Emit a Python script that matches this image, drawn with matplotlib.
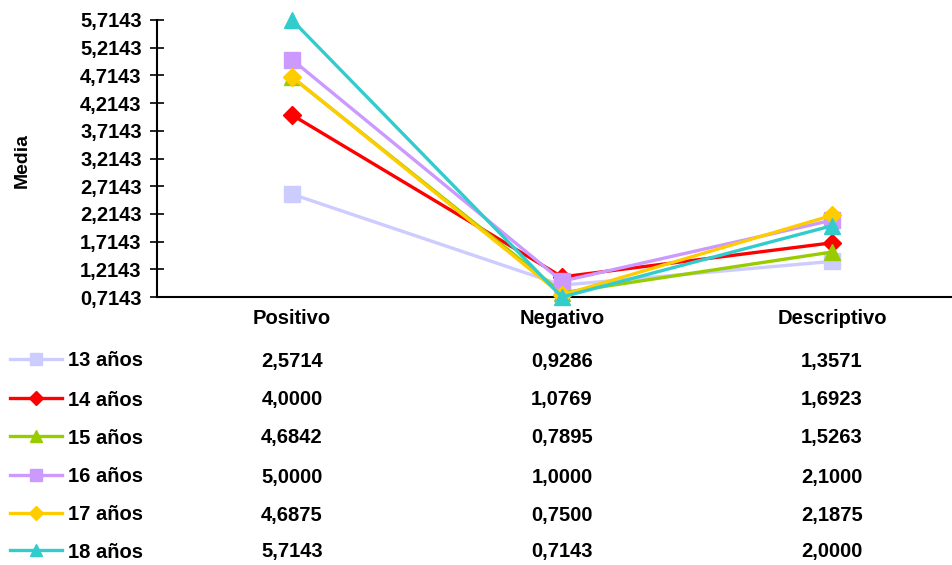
import matplotlib
matplotlib.use("Agg")
import matplotlib.pyplot as plt
from matplotlib.transforms import blended_transform_factory

plt.rcParams['font.family'] = ['Liberation Sans', 'DejaVu Sans']
plt.rcParams['font.weight'] = 'bold'

categories = ["Positivo", "Negativo", "Descriptivo"]
series_names = ["13 años", "14 años", "15 años", "16 años", "17 años", "18 años"]
s13 = [2.5714, 0.9286, 1.3571]
s14 = [4.0000, 1.0769, 1.6923]
s15 = [4.6842, 0.7895, 1.5263]
s16 = [5.0000, 1.0000, 2.1000]
s17 = [4.6875, 0.7500, 2.1875]
s18 = [5.7143, 0.7143, 2.0000]
series = [s13, s14, s15, s16, s17, s18]
colors = ["#CCCCFF", "#FF0000", "#99CC00", "#CC99FF", "#FFCC00", "#33CCCC"]
markers = ["s", "D", "^", "s", "D", "^"]
msizes = [11, 9, 12, 11, 9, 12]
yticks = [0.7143, 1.2143, 1.7143, 2.2143, 2.7143, 3.2143, 3.7143, 4.2143, 4.7143, 5.2143, 5.7143]

FS = 14.5
W, H = 952, 565
fig = plt.figure(figsize=(W / 100, H / 100), dpi=100)
ax = fig.add_axes([157 / W, (H - 297) / H, (967 - 157) / W, 277 / H])

x = list(range(len(categories)))
for vals, c, m, ms in zip(series, colors, markers, msizes):
    ax.plot(x, vals, color=c, lw=2.4, marker=m, markersize=ms, clip_on=False, zorder=3)

ax.set_xlim(-0.5, 2.5)
ax.set_ylim(yticks[0], yticks[-1])
ax.set_yticks(yticks)
ax.set_yticklabels([f"{v:.4f}".replace(".", ",") for v in yticks], fontsize=FS, fontweight='bold')
ax.set_xticks([])
ax.tick_params(axis='y', direction='inout', length=10, width=1.2, pad=6)
for s in ['top', 'right']:
    ax.spines[s].set_visible(False)
ax.spines['left'].set_linewidth(1.5)
ax.spines['bottom'].set_linewidth(1.5)
ax.set_ylabel("Media", fontsize=14, fontweight='bold')
ax.yaxis.set_label_coords((31 - 157) / 810, (H - 160 - (H - 297)) / 277)

# category labels and data table
tr = blended_transform_factory(ax.transData, fig.transFigure)
for i, cat in enumerate(categories):
    ax.text(i, 1 - 316 / H, cat, transform=tr, ha='center', va='center_baseline',
            fontsize=FS, fontweight='bold')

row_y = [359, 398, 436, 475, 513, 550]
for r, (name, vals, c, m) in enumerate(zip(series_names, series, colors, markers)):
    yf = 1 - row_y[r] / H
    for i, v in enumerate(vals):
        ax.text(i, yf, f"{v:.4f}".replace(".", ","), transform=tr, ha='center', va='center_baseline',
                fontsize=FS, fontweight='bold')
    fig.text(68 / W, yf, name, ha='left', va='center_baseline', fontsize=FS, fontweight='bold')

# legend keys
lax = fig.add_axes([0, 0, 1, 1], facecolor='none')
lax.set_xlim(0, W)
lax.set_ylim(H, 0)
lax.axis('off')
for r, (c, m) in enumerate(zip(colors, markers)):
    ms = 8 if m != 'D' else 7
    lax.plot([10, 62], [row_y[r], row_y[r]], color=c, lw=2.4)
    lax.plot([36], [row_y[r]], color=c, marker=m, markersize=ms)

fig.savefig("out.png", dpi=100)
